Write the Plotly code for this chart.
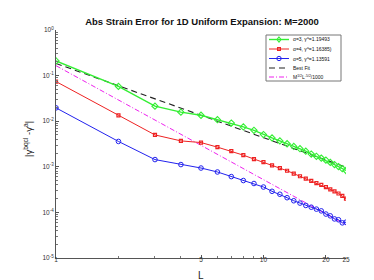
import plotly.graph_objects as go

# ---------------- data ----------------
L = list(range(1, 26))
err_a3 = [0.21, 0.058, 0.0214, 0.0158, 0.0135, 0.0108, 0.0091, 0.0075, 0.0063, 0.0051,
          0.0043, 0.0037, 0.0032, 0.0028, 0.0025, 0.0022, 0.0019, 0.0017, 0.00155, 0.0014,
          0.00125, 0.00112, 0.00101, 0.00091, 0.00083]
err_a4 = [0.074, 0.0134, 0.0050, 0.0037, 0.0034, 0.0027, 0.0022, 0.0018, 0.00148, 0.00126,
          0.00108, 0.00094, 0.00082, 0.00071, 0.00062, 0.00055, 0.00049, 0.00044, 0.00040, 0.00036,
          0.00032, 0.00029, 0.00026, 0.00023, 0.00020]
err_a5 = [0.0196, 0.0036, 0.00144, 0.00112, 0.00094, 0.00077, 0.00061, 0.00050, 0.00043, 0.00036,
          0.00029, 0.00025, 0.00021, 0.00018, 0.00016, 0.000142, 0.00013, 0.000118, 0.000108, 0.000092,
          0.000084, 0.000072, 0.000069, 0.000059, 0.000061]
fit_L = [1, 25]
best_fit = [0.185, 0.00098]
ref_line = [0.165, 0.000053]

legend_labels = ["α=3, γ<sup>a</sup>=1.19493", "α=4, γ<sup>a</sup>=1.16385)",
                 "α=5, γ<sup>a</sup>=1.13591", "Best Fit",
                 "M<sup>1/2</sup>L<sup>-5/2</sup>/1000"]
xtick_vals = [1, 5, 10, 20, 25]
ytick_vals = [1e-5, 1e-4, 1e-3, 1e-2, 1e-1, 1]
ytick_text = ["10<sup>-5</sup>", "10<sup>-4</sup>", "10<sup>-3</sup>",
              "10<sup>-2</sup>", "10<sup>-1</sup>", "10<sup>0</sup>"]

GREEN, RED, BLUE, MAG, BLK = "#33ee33", "#ee2222", "#2222ee", "#ee22ee", "#222222"
FONT = "Liberation Sans, Arial, sans-serif"

fig = go.Figure()
fig.add_trace(go.Scatter(x=fit_L, y=best_fit, mode="lines",
                         line=dict(color=BLK, width=1.1, dash="6px,4px")))
fig.add_trace(go.Scatter(x=fit_L, y=ref_line, mode="lines",
                         line=dict(color=MAG, width=1, dash="5px,2px,1px,2px")))
fig.add_trace(go.Scatter(x=L, y=err_a3, mode="lines+markers",
                         line=dict(color=GREEN, width=1.4),
                         marker=dict(symbol="diamond-open", size=4.8, color=GREEN, line=dict(width=1.1))))
fig.add_trace(go.Scatter(x=L, y=err_a4, mode="lines+markers",
                         line=dict(color=RED, width=1),
                         marker=dict(symbol="square-open", size=3, color=RED, line=dict(width=1.2))))
fig.add_trace(go.Scatter(x=L, y=err_a5, mode="lines+markers",
                         line=dict(color=BLUE, width=1),
                         marker=dict(symbol="circle-open", size=4.6, color=BLUE, line=dict(width=1))))

# plot area in pixels
PL, PR, PT, PB = 48, 338, 22, 250
def px(x):
    return (x - PL) / (PR - PL)
def py(y):
    return (PB - y) / (PB - PT)

shapes = []
annotations = []
# legend box
shapes.append(dict(type="rect", xref="paper", yref="paper",
                   x0=px(258), x1=px(333), y0=py(73), y1=py(27),
                   line=dict(color="#777777", width=1), fillcolor="white"))
rows = [31.5, 41, 50.5, 60, 69]
styles = [(GREEN, 1.4, "solid"), (RED, 1, "solid"), (BLUE, 1, "solid"),
          (BLK, 1.1, "6px,4px"), (MAG, 1, "5px,2px,1px,2px")]
for i, (yy, (c, w, d)) in enumerate(zip(rows, styles)):
    shapes.append(dict(type="line", xref="paper", yref="paper",
                       x0=px(261), x1=px(281), y0=py(yy), y1=py(yy),
                       line=dict(color=c, width=w, dash=d)))
    annotations.append(dict(text=legend_labels[i], xref="paper", yref="paper",
                            x=px(283), y=py(yy), xanchor="left", yanchor="middle",
                            showarrow=False, font=dict(size=5, color="#111111", family=FONT)))
# legend markers
cx = 271
shapes.append(dict(type="path", xref="paper", yref="paper",
                   path=f"M {px(cx)} {py(rows[0]-2.5)} L {px(cx+2)} {py(rows[0])} L {px(cx)} {py(rows[0]+2.5)} L {px(cx-2)} {py(rows[0])} Z",
                   line=dict(color=GREEN, width=1.1), fillcolor="rgba(0,0,0,0)"))
shapes.append(dict(type="rect", xref="paper", yref="paper",
                   x0=px(cx-1.4), x1=px(cx+1.4), y0=py(rows[1]+1.4), y1=py(rows[1]-1.4),
                   line=dict(color=RED, width=1.2), fillcolor="rgba(0,0,0,0)"))
shapes.append(dict(type="circle", xref="paper", yref="paper",
                   x0=px(cx-2.2), x1=px(cx+2.2), y0=py(rows[2]+2.2), y1=py(rows[2]-2.2),
                   line=dict(color=BLUE, width=1), fillcolor="rgba(0,0,0,0)"))

# axis titles
annotations.append(dict(text="|γ<sup>bqcl</sup> -γ<sup>a</sup>|", xref="paper", yref="paper",
                        x=px(20), y=py(131), textangle=-90, showarrow=False,
                        xanchor="center", yanchor="middle",
                        font=dict(size=9.5, color="#222222", family=FONT)))
annotations.append(dict(text="L", xref="paper", yref="paper",
                        x=px(193), y=py(267), showarrow=False,
                        xanchor="center", yanchor="middle",
                        font=dict(size=10, color="#222222", family=FONT)))

minor_x = [2, 3, 4, 6, 7, 8, 9]
minor_y = [k * 10.0 ** e for e in range(-5, 0) for k in range(2, 10)]

fig.update_layout(
    width=374, height=280,
    margin=dict(l=PL, r=374 - PR, t=PT, b=280 - PB, pad=0),
    paper_bgcolor="white", plot_bgcolor="white",
    showlegend=False,
    font=dict(family=FONT, color="#333333"),
    title=dict(text="<b>Abs Strain Error for 1D Uniform Expansion: M=2000</b>",
               x=px(194), xref="paper", xanchor="center",
               y=1 - 14 / 280, yref="container", yanchor="middle",
               font=dict(size=9.5, color="#111111", family=FONT)),
    xaxis=dict(type="log", range=[0, 1.39794], showgrid=False, zeroline=False,
               showline=True, linecolor="#555555", linewidth=1,
               ticks="inside", ticklen=3, tickcolor="#555555", tickwidth=1,
               tickmode="array", tickvals=xtick_vals, ticktext=[str(v) for v in xtick_vals],
               tickfont=dict(size=6.5, color="#333333"), ticklabelstandoff=-5,
               minor=dict(ticks="inside", ticklen=2, tickcolor="#777777",
                          tickmode="array", tickvals=minor_x, showgrid=False)),
    yaxis=dict(type="log", range=[-5, 0], showgrid=False, zeroline=False,
               showline=True, linecolor="#555555", linewidth=1,
               ticks="inside", ticklen=3, tickcolor="#555555", tickwidth=1,
               tickmode="array", tickvals=ytick_vals, ticktext=ytick_text,
               tickfont=dict(size=6.5, color="#333333"),
               minor=dict(ticks="inside", ticklen=2, tickcolor="#777777",
                          tickmode="array", tickvals=minor_y, showgrid=False)),
    shapes=shapes,
    annotations=annotations,
)

fig.write_html("out.html")
